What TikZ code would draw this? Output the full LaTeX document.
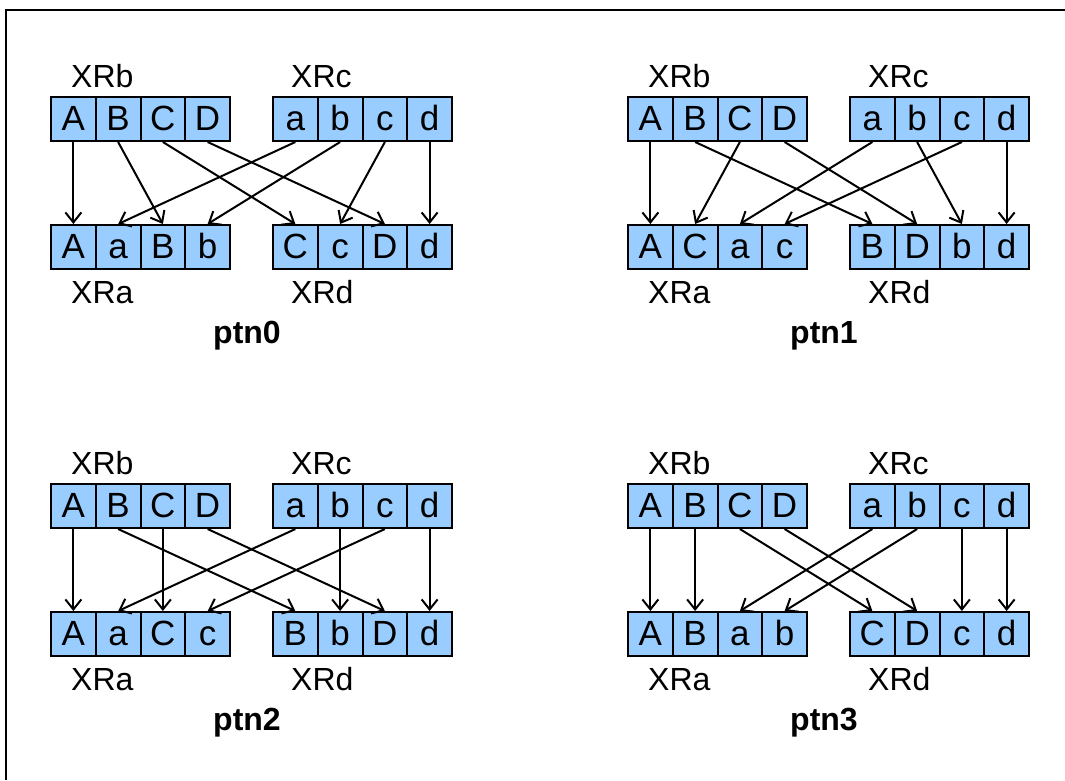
\documentclass[tikz,border=0pt]{standalone}
\usepackage{fontspec}
\setmainfont{Liberation Sans}
\usepackage{xcolor}
\usetikzlibrary{arrows.meta}

\definecolor{cellblue}{RGB}{153,204,255}

\tikzset{
  cell/.style={draw, fill=cellblue, line width=2pt, anchor=north west,
    minimum width=44.75pt, minimum height=44pt, inner sep=0pt,
    text height=23pt, text depth=0pt, font=\fontsize{35}{40}\selectfont},
  tag/.style={anchor=base west, inner sep=0pt, font=\fontsize{32}{38}\selectfont},
  title/.style={anchor=base, inner sep=0pt, font=\fontsize{32}{38}\selectfont\bfseries},
  link/.style={-{Straight Barb[length=10pt,width=16pt]}, line width=2pt}
}

% one pattern: #1 name, #2 #3 origin, #4 XRa order, #5 XRd order, #6 title
\newcommand{\ptnpanel}[6]{%
  \begin{scope}[shift={(#2,#3)}]
    \foreach \l [count=\i from 0] in {A,B,C,D}
      \node[cell] (#1s\l) at (\i*44.75,0) {\l};
    \foreach \l [count=\i from 0] in {a,b,c,d}
      \node[cell] (#1s\l) at (222+\i*44.75,0) {\l};
    \foreach \l [count=\i from 0] in {#4}
      \node[cell] (#1d\l) at (\i*44.75,128) {\l};
    \foreach \l [count=\i from 0] in {#5}
      \node[cell] (#1d\l) at (222+\i*44.75,128) {\l};
    \node[tag] (#1b) at (21,-9) {XRb};
    \node[tag] (#1c) at (241,-9) {XRc};
    \node[tag] (#1a) at (21,207) {XRa};
    \node[tag] (#1e) at (241,207) {XRd};
    \node[title] (#1t) at (197,247) {#6};
    \foreach \l in {A,B,C,D,a,b,c,d}
      \draw[link] (#1s\l.south) -- (#1d\l.north);
  \end{scope}}

\begin{document}
\begin{tikzpicture}[x=1pt,y=-1pt]
  \useasboundingbox (0,0) rectangle (1065,780);
  \draw[line width=2.5pt] (6,780) -- (6,10) -- (1065,10);

  \ptnpanel{p0}{50}{96}{A,a,B,b}{C,c,D,d}{ptn0}
  \ptnpanel{p1}{627}{96}{A,C,a,c}{B,D,b,d}{ptn1}
  \ptnpanel{p2}{50}{483}{A,a,C,c}{B,b,D,d}{ptn2}
  \ptnpanel{p3}{627}{483}{A,B,a,b}{C,D,c,d}{ptn3}
\end{tikzpicture}
\end{document}
